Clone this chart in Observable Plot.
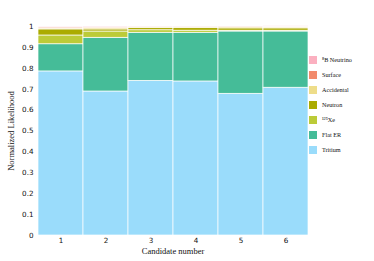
<!DOCTYPE html>
<html>
<head>
<meta charset="utf-8">
<script src="https://cdn.jsdelivr.net/npm/d3@7"></script>
<script src="https://cdn.jsdelivr.net/npm/@observablehq/plot@0.6"></script>
<style>
  html, body { margin: 0; padding: 0; background: #fff; }
  #wrap { position: relative; width: 374px; height: 261px; overflow: hidden; }
  #legend { position: absolute; left: 309px; top: 52px; font-family: "Liberation Serif", "DejaVu Serif", serif; font-size: 6.2px; color: #111; }
  .item { display: flex; align-items: center; height: 15px; }
  .sw { width: 8px; height: 8px; margin-right: 5px; }
</style>
</head>
<body>
<div id="wrap"></div>
<script>
const candidates = [1, 2, 3, 4, 5, 6];
const components = ["Tritium", "Flat ER", "¹²⁵Xe", "Neutron", "Accidental", "Surface", "⁸B Neutrino"];
const colors = ["#9adcfb", "#45bc98", "#bccb38", "#abab00", "#eedd8a", "#f28a6c", "#fbb0c0"];
const tritium    = [0.785, 0.689, 0.740, 0.737, 0.678, 0.707];
const flatER     = [0.130, 0.257, 0.230, 0.233, 0.298, 0.269];
const xe125      = [0.042, 0.030, 0.012, 0.010, 0.004, 0.004];
const neutron    = [0.029, 0.010, 0.010, 0.012, 0.011, 0.011];
const accidental = [0.005, 0.008, 0.005, 0.005, 0.006, 0.005];
const surface    = [0.005, 0.003, 0.002, 0.002, 0.003, 0.003];
const b8         = [0.004, 0.003, 0.001, 0.001, 0.002, 0.002];
const yTicks = [0, 0.1, 0.2, 0.3, 0.4, 0.5, 0.6, 0.7, 0.8, 0.9, 1];

const series = [tritium, flatER, xe125, neutron, accidental, surface, b8];
const table = [];
candidates.forEach((c, i) => {
  series.forEach((s, k) => table.push({candidate: c, component: components[k], value: s[i]}));
});

const chart = Plot.plot({
  width: 374,
  height: 261,
  marginLeft: 37,
  marginRight: 66,
  marginTop: 26,
  marginBottom: 26,
  style: {fontFamily: "Liberation Serif, serif", fontSize: "8px", color: "#111", background: "#fff"},
  x: {type: "band", domain: candidates, padding: 0},
  y: {domain: [0, 1]},
  color: {domain: components, range: colors},
  marks: [
    Plot.barY(table, {
      x: "candidate", y: "value", fill: "component",
      order: components,
      stroke: "white", strokeWidth: 0.7
    }),
    Plot.axisY({
      ticks: yTicks, tickSize: 0, tickPadding: 4,
      tickFormat: d => String(+d.toFixed(1)),
      fontFamily: "DejaVu Sans, sans-serif", fontSize: 7.2,
      label: null
    }),
    Plot.axisX({
      tickSize: 0, tickPadding: 2,
      fontFamily: "DejaVu Sans, sans-serif", fontSize: 7.2,
      label: null
    }),
    Plot.text(["Normalized Likelihood"], {
      frameAnchor: "left", dx: -26, rotate: -90, textAnchor: "middle",
      fontFamily: "Liberation Serif, serif", fontSize: 8.5
    }),
    Plot.text(["Candidate number"], {
      frameAnchor: "bottom", dy: 18.5,
      fontFamily: "Liberation Serif, serif", fontSize: 8.5
    })
  ]
});
const wrap = document.getElementById("wrap");
wrap.appendChild(chart);

const legend = document.createElement("div");
legend.id = "legend";
components.slice().reverse().forEach(name => {
  const k = components.indexOf(name);
  const it = document.createElement("div");
  it.className = "item";
  const sw = document.createElement("div");
  sw.className = "sw";
  sw.style.background = colors[k];
  const lb = document.createElement("span");
  lb.textContent = name;
  it.appendChild(sw);
  it.appendChild(lb);
  legend.appendChild(it);
});
wrap.appendChild(legend);
</script>
</body>
</html>
